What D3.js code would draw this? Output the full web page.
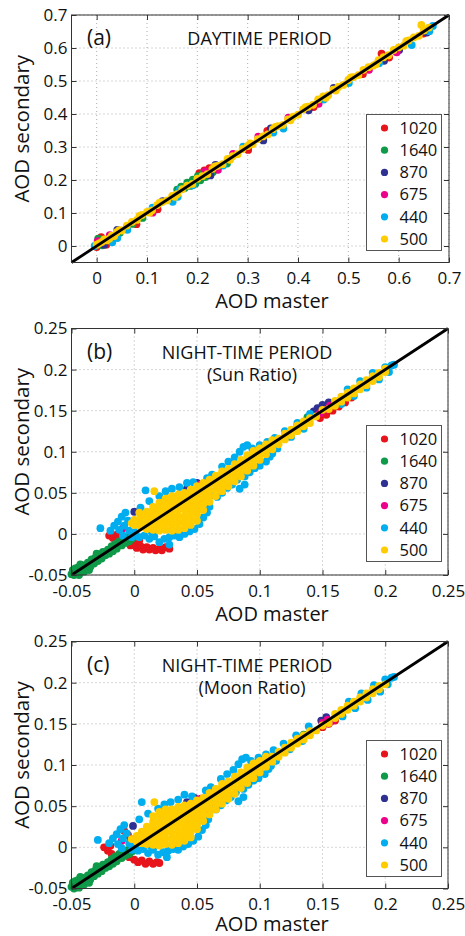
<!DOCTYPE html>
<html>
<head>
<meta charset="utf-8">
<script src="https://cdn.jsdelivr.net/npm/d3@7"></script>
<style>
html, body { margin: 0; padding: 0; background: #fff; }
svg { display: block; font-family: "Open Sans", sans-serif; }
</style>
</head>
<body>
<svg id="fig" width="465" height="936"></svg>
<script>
// Wavelengths (nm), in drawing order
const wavelengths = ["1020", "1640", "870", "675", "440", "500"];
const waveColors = ["#e8141c", "#0e9a48", "#2e3192", "#ec008c", "#00aeef", "#ffcc00"];

// Tick values
const dayTicks = [0, 0.1, 0.2, 0.3, 0.4, 0.5, 0.6, 0.7];
const nightTicks = [-0.05, 0, 0.05, 0.1, 0.15, 0.2, 0.25];
const nightTickLabels = ["-0.05", "0", "0.05", "0.1", "0.15", "0.2", "0.25"];

// ---------- (a) daytime: [AOD master, AOD secondary] ----------
const a1020 = [[0.000,-0.003],[0.004,0.021],[0.009,0.027],[0.019,0.004],[0.079,0.066],[0.121,0.111],[0.204,0.221],[0.214,0.229],[0.224,0.236],[0.301,0.291],[0.339,0.349],[0.431,0.421],[0.529,0.521],[0.566,0.583],[0.581,0.571],[0.649,0.644]];
const a1640 = [[0.003,0.022],[0.011,0.002],[0.046,0.040],[0.091,0.085],[0.160,0.171],[0.168,0.180],[0.175,0.176],[0.180,0.192],[0.186,0.182],[0.191,0.201],[0.196,0.189],[0.201,0.212],[0.206,0.199],[0.211,0.219],[0.216,0.209],[0.221,0.217],[0.231,0.224],[0.259,0.250],[0.071,0.067]];
const a870 = [[0.015,0.004],[0.041,0.049],[0.131,0.136],[0.226,0.214],[0.236,0.246],[0.331,0.320],[0.346,0.356],[0.421,0.411],[0.471,0.479],[0.571,0.561],[0.601,0.594],[0.656,0.647]];
const a675 = [[0.002,0.015],[0.026,0.033],[0.111,0.101],[0.216,0.226],[0.241,0.231],[0.271,0.279],[0.321,0.331],[0.381,0.389],[0.441,0.431],[0.541,0.534],[0.596,0.587]];
const a440 = [[-0.004,0.000],[0.031,0.011],[0.041,0.024],[0.061,0.049],[0.111,0.116],[0.151,0.134],[0.161,0.149],[0.165,0.171],[0.191,0.184],[0.251,0.244],[0.291,0.301],[0.351,0.344],[0.371,0.356],[0.451,0.444],[0.501,0.494],[0.561,0.554],[0.626,0.609],[0.661,0.651],[0.668,0.667]];
const a500 = [[0.000,0.004],[0.010,0.012],[0.020,0.017],[0.030,0.031],[0.040,0.042],[0.050,0.047],[0.060,0.062],[0.070,0.073],[0.080,0.079],[0.090,0.094],
  [0.100,0.103],[0.110,0.108],[0.120,0.124],[0.130,0.133],[0.140,0.138],[0.150,0.152],[0.160,0.157],[0.170,0.172],[0.180,0.183],[0.190,0.188],
  [0.200,0.204],[0.210,0.212],[0.220,0.218],[0.230,0.234],[0.240,0.243],[0.250,0.248],[0.260,0.264],[0.270,0.272],[0.280,0.278],[0.290,0.294],
  [0.300,0.303],[0.310,0.308],[0.320,0.324],[0.330,0.332],[0.340,0.338],[0.350,0.354],[0.360,0.363],[0.370,0.367],[0.380,0.384],[0.390,0.392],
  [0.400,0.398],[0.410,0.414],[0.420,0.422],[0.430,0.428],[0.440,0.444],[0.450,0.453],[0.460,0.457],[0.470,0.474],[0.480,0.482],[0.490,0.488],
  [0.500,0.503],[0.510,0.512],[0.520,0.518],[0.530,0.534],[0.540,0.542],[0.550,0.547],[0.560,0.563],[0.570,0.572],[0.580,0.578],[0.590,0.594],
  [0.600,0.602],[0.610,0.607],[0.620,0.623],[0.630,0.632],[0.640,0.637],[0.650,0.653],[0.660,0.662],[0.645,0.670],[0.015,0.020],[0.035,0.030],
  [0.125,0.131],[0.155,0.149],[0.305,0.311],[0.455,0.449],[0.005,0.008],[0.025,0.022],[0.045,0.048],[0.085,0.091],[0.105,0.101],[0.235,0.241],
  [0.265,0.261],[0.355,0.361],[0.385,0.381],[0.415,0.421],[0.475,0.471],[0.505,0.511],[0.555,0.551],[0.615,0.621]];

// ---------- (b) night-time, Sun Ratio ----------
const b1020 = [[-0.020,-0.002],[-0.017,-0.005],[-0.014,-0.001],[-0.006,-0.010],[-0.003,-0.014],[0.000,-0.012],[0.002,-0.017],[0.005,-0.015],[0.007,-0.019],[0.010,-0.016],
  [0.012,-0.019],[0.015,-0.017],[0.017,-0.020],[0.020,-0.018],[0.022,-0.020],[0.025,-0.016],[0.028,-0.018],[0.004,-0.008],[0.052,0.040],[0.055,0.036],
  [0.058,0.041],[0.048,0.052],[0.148,0.141],[0.153,0.145],[0.158,0.150],[0.163,0.155],[0.168,0.160],[0.173,0.166],[0.120,0.116],[0.100,0.097],[0.085,0.080],[0.070,0.066]];
const b1640 = [[-0.050,-0.049],[-0.049,-0.044],[-0.048,-0.050],[-0.046,-0.047],[-0.045,-0.041],[-0.044,-0.050],[-0.042,-0.045],[-0.041,-0.038],[-0.040,-0.046],[-0.038,-0.041],
  [-0.037,-0.035],[-0.035,-0.040],[-0.034,-0.031],[-0.032,-0.036],[-0.031,-0.029],[-0.029,-0.033],[-0.028,-0.025],[-0.026,-0.030],[-0.025,-0.022],[-0.023,-0.026],
  [-0.021,-0.019],[-0.020,-0.024],[-0.018,-0.015],[-0.017,-0.021],[-0.015,-0.012],[-0.014,-0.018],[-0.012,-0.009],[-0.010,-0.014],[-0.009,-0.006],[-0.007,-0.011],
  [-0.005,-0.004],[-0.004,-0.009],[-0.002,-0.006],[0.000,-0.003],[-0.047,-0.042],[-0.043,-0.037],[-0.036,-0.044],[-0.030,-0.024],[0.130,0.132],[0.138,0.142]];
const b870 = [[0.000,0.027],[0.042,0.055],[0.050,0.062],[0.061,0.047],[0.146,0.153],[0.150,0.157],[0.143,0.149],[0.155,0.160]];
const b675 = [[-0.009,0.007],[0.052,0.060],[0.055,0.058],[0.152,0.151],[0.156,0.156],[0.160,0.158],[0.148,0.147],[0.164,0.162]];
const b440 = [[-0.027,0.007],[-0.019,0.004],[-0.016,0.010],[-0.013,0.015],[-0.010,0.021],[-0.007,0.026],[-0.012,0.005],[-0.008,0.010],[-0.005,0.016],[-0.004,0.004],
  [-0.009,-0.002],[-0.002,-0.004],[0.001,0.002],[0.009,0.053],[0.005,0.032],[0.012,0.040],[0.020,0.046],[0.025,0.052],[0.030,0.055],[0.036,0.057],
  [0.042,0.062],[0.047,0.063],[0.004,-0.004],[0.008,-0.002],[0.012,-0.006],[0.016,-0.003],[0.020,-0.010],[0.024,-0.006],[0.028,-0.013],[0.028,-0.004],
  [0.032,-0.002],[0.036,-0.004],[0.040,0.000],[0.044,0.003],[0.048,0.006],[0.052,0.012],[0.055,0.020],[0.058,0.026],[0.060,0.033],[0.014,0.002],
  [0.033,0.003],[0.058,0.068],[0.062,0.072],[0.066,0.045],[0.064,0.052],[0.070,0.050],[0.074,0.056],[0.078,0.060],[0.084,0.055],[0.088,0.060],
  [0.082,0.066],[0.088,0.070],[0.092,0.075],[0.096,0.080],[0.100,0.083],[0.105,0.088],[0.108,0.094],[0.070,0.082],[0.075,0.088],[0.080,0.093],
  [0.084,0.100],[0.087,0.106],[0.090,0.108],[0.094,0.104],[0.100,0.108],[0.106,0.112],[0.112,0.117],[0.110,0.098],[0.114,0.104],[0.120,0.125],
  [0.125,0.118],[0.130,0.135],[0.135,0.128],[0.140,0.146],[0.165,0.158],[0.170,0.176],[0.175,0.168],[0.180,0.186],[0.185,0.178],[0.190,0.196],
  [0.195,0.188],[0.200,0.203],[0.205,0.205],[0.203,0.197],[0.207,0.206]];
const b500 = [[-0.002,0.013],[0.000,0.011],[0.000,0.017],[0.005,0.008],[0.005,0.015],[0.005,0.022],[0.010,0.006],[0.010,0.013],[0.010,0.020],[0.010,0.027],
  [0.015,0.005],[0.015,0.012],[0.015,0.019],[0.015,0.026],[0.015,0.033],[0.020,0.004],[0.020,0.010],[0.020,0.017],[0.020,0.024],[0.020,0.031],
  [0.020,0.038],[0.025,0.005],[0.025,0.013],[0.025,0.021],[0.025,0.029],[0.025,0.036],[0.025,0.043],[0.030,0.004],[0.030,0.010],[0.030,0.017],
  [0.030,0.025],[0.030,0.032],[0.030,0.039],[0.030,0.046],[0.035,0.005],[0.035,0.013],[0.035,0.021],[0.035,0.029],[0.035,0.036],[0.035,0.043],
  [0.035,0.048],[0.040,0.007],[0.040,0.015],[0.040,0.022],[0.040,0.030],[0.040,0.037],[0.040,0.044],[0.040,0.050],[0.045,0.011],[0.045,0.019],
  [0.045,0.027],[0.045,0.034],[0.045,0.041],[0.045,0.048],[0.045,0.054],[0.050,0.016],[0.050,0.024],[0.050,0.031],[0.050,0.038],[0.050,0.045],
  [0.050,0.052],[0.050,0.058],[0.055,0.029],[0.055,0.036],[0.055,0.043],[0.055,0.050],[0.055,0.057],[0.055,0.062],[0.060,0.039],[0.060,0.046],
  [0.060,0.053],[0.060,0.060],[0.060,0.066],[0.065,0.046],[0.065,0.053],[0.065,0.060],[0.065,0.066],[0.065,0.071],[0.070,0.052],[0.070,0.059],
  [0.070,0.066],[0.070,0.072],[0.070,0.076],[0.075,0.058],[0.075,0.065],[0.075,0.072],[0.075,0.079],[0.080,0.064],[0.080,0.071],[0.080,0.078],
  [0.080,0.085],[0.085,0.070],[0.085,0.077],[0.085,0.084],[0.085,0.090],[0.090,0.077],[0.090,0.084],[0.090,0.091],[0.090,0.096],[0.095,0.083],
  [0.095,0.090],[0.095,0.097],[0.095,0.101],[0.100,0.090],[0.100,0.097],[0.100,0.104],[0.105,0.097],[0.105,0.103],[0.105,0.109],[0.110,0.103],
  [0.110,0.109],[0.110,0.114],[0.115,0.109],[0.115,0.116],[0.120,0.115],[0.120,0.122],[0.125,0.120],[0.125,0.127],[0.130,0.125],[0.130,0.132],
  [0.135,0.131],[0.135,0.137],[0.140,0.135],[0.140,0.141],[0.145,0.143],[0.150,0.151],[0.155,0.152],[0.160,0.156],[0.160,0.162],[0.165,0.161],
  [0.165,0.167],[0.170,0.166],[0.170,0.172],[0.175,0.171],[0.175,0.177],[0.180,0.176],[0.180,0.182],[0.185,0.181],[0.185,0.187],[0.190,0.186],
  [0.190,0.192],[0.195,0.191],[0.195,0.196],[0.200,0.197],[0.200,0.201],[0.016,0.052],[0.004,0.026]];

// ---------- (c) night-time, Moon Ratio ----------
const c1020 = [[-0.024,0.000],[-0.021,-0.004],[-0.018,-0.008],[-0.019,0.002],[-0.008,0.020],[-0.005,0.015],[-0.003,0.010],[-0.008,-0.008],[-0.004,-0.012],[0.000,-0.015],
  [0.003,-0.018],[0.006,-0.016],[0.009,-0.020],[0.012,-0.017],[0.015,-0.020],[0.018,-0.018],[0.020,-0.019],[0.050,0.036],[0.053,0.040],[0.150,0.146],
  [0.155,0.150],[0.160,0.154],[0.070,0.066],[0.100,0.097],[0.056,0.044]];
const c1640 = [[-0.050,-0.048],[-0.049,-0.043],[-0.048,-0.050],[-0.046,-0.046],[-0.045,-0.040],[-0.044,-0.049],[-0.042,-0.044],[-0.041,-0.037],[-0.040,-0.045],[-0.038,-0.040],
  [-0.037,-0.034],[-0.035,-0.039],[-0.034,-0.030],[-0.032,-0.035],[-0.031,-0.028],[-0.029,-0.032],[-0.028,-0.024],[-0.026,-0.029],[-0.025,-0.021],[-0.023,-0.025],
  [-0.021,-0.018],[-0.020,-0.023],[-0.018,-0.014],[-0.017,-0.020],[-0.015,-0.011],[-0.014,-0.017],[-0.012,-0.008],[-0.010,-0.013],[-0.009,-0.005],[-0.007,-0.010],
  [-0.005,-0.003],[-0.004,-0.008],[-0.002,-0.005],[0.000,-0.002],[-0.047,-0.041],[-0.043,-0.036],[-0.036,-0.043],[-0.030,-0.023],[0.135,0.137]];
const c870 = [[0.042,0.055],[0.062,0.049],[0.048,0.060],[0.149,0.154],[0.153,0.158],[-0.001,0.026]];
const c675 = [[0.049,0.057],[0.053,0.059],[0.150,0.151],[0.154,0.155],[0.157,0.153],[-0.010,0.008]];
const c440 = [[-0.029,0.009],[-0.020,0.005],[-0.017,0.011],[-0.014,0.016],[-0.011,0.022],[-0.008,0.027],[-0.013,0.004],[-0.009,0.011],[-0.006,0.017],[-0.004,0.005],
  [-0.010,-0.001],[-0.002,-0.003],[0.001,0.003],[0.006,0.055],[0.004,0.034],[0.011,0.041],[0.019,0.047],[0.024,0.052],[0.029,0.055],[0.035,0.058],
  [0.040,0.064],[0.046,0.062],[0.003,-0.004],[0.007,-0.002],[0.011,-0.007],[0.015,-0.003],[0.019,-0.009],[0.023,-0.006],[0.026,-0.012],[0.027,-0.004],
  [0.031,-0.002],[0.035,-0.003],[0.039,0.001],[0.043,0.004],[0.047,0.008],[0.051,0.013],[0.054,0.021],[0.057,0.027],[0.059,0.034],[0.013,0.002],
  [0.032,0.003],[0.057,0.069],[0.061,0.073],[0.065,0.046],[0.063,0.053],[0.069,0.051],[0.073,0.057],[0.077,0.061],[0.083,0.056],[0.087,0.061],
  [0.081,0.067],[0.087,0.071],[0.091,0.076],[0.095,0.081],[0.099,0.084],[0.104,0.089],[0.107,0.095],[0.069,0.083],[0.074,0.089],[0.079,0.094],
  [0.083,0.101],[0.086,0.107],[0.089,0.109],[0.093,0.105],[0.099,0.109],[0.105,0.113],[0.111,0.118],[0.109,0.099],[0.113,0.105],[0.119,0.126],
  [0.124,0.119],[0.129,0.136],[0.134,0.129],[0.139,0.147],[0.166,0.159],[0.171,0.177],[0.176,0.169],[0.181,0.187],[0.186,0.179],[0.191,0.197],
  [0.196,0.189],[0.200,0.204],[0.205,0.206],[0.202,0.198],[0.207,0.207]];
const c500 = [[-0.002,0.010],[0.002,0.007],[0.002,0.014],[0.006,0.005],[0.006,0.012],[0.006,0.019],[0.010,0.004],[0.010,0.011],[0.010,0.018],[0.010,0.025],
  [0.015,0.003],[0.015,0.010],[0.015,0.017],[0.015,0.024],[0.015,0.031],[0.015,0.038],[0.020,0.002],[0.020,0.009],[0.020,0.016],[0.020,0.023],
  [0.020,0.030],[0.020,0.037],[0.020,0.043],[0.025,0.004],[0.025,0.011],[0.025,0.019],[0.025,0.027],[0.025,0.035],[0.025,0.042],[0.025,0.046],
  [0.030,0.003],[0.030,0.010],[0.030,0.017],[0.030,0.025],[0.030,0.032],[0.030,0.039],[0.030,0.046],[0.035,0.005],[0.035,0.012],[0.035,0.020],
  [0.035,0.028],[0.035,0.036],[0.035,0.043],[0.035,0.049],[0.040,0.008],[0.040,0.015],[0.040,0.023],[0.040,0.030],[0.040,0.037],[0.040,0.044],
  [0.040,0.051],[0.045,0.012],[0.045,0.019],[0.045,0.026],[0.045,0.033],[0.045,0.040],[0.045,0.047],[0.045,0.053],[0.050,0.022],[0.050,0.029],
  [0.050,0.036],[0.050,0.043],[0.050,0.050],[0.050,0.057],[0.055,0.032],[0.055,0.039],[0.055,0.046],[0.055,0.053],[0.055,0.060],[0.060,0.040],
  [0.060,0.047],[0.060,0.054],[0.060,0.061],[0.060,0.066],[0.065,0.046],[0.065,0.053],[0.065,0.060],[0.065,0.067],[0.065,0.071],[0.070,0.053],
  [0.070,0.060],[0.070,0.067],[0.070,0.073],[0.070,0.077],[0.075,0.059],[0.075,0.066],[0.075,0.073],[0.075,0.080],[0.080,0.065],[0.080,0.072],
  [0.080,0.079],[0.080,0.086],[0.085,0.072],[0.085,0.079],[0.085,0.086],[0.085,0.091],[0.090,0.078],[0.090,0.085],[0.090,0.092],[0.090,0.097],
  [0.095,0.084],[0.095,0.091],[0.095,0.098],[0.095,0.102],[0.100,0.091],[0.100,0.098],[0.100,0.105],[0.105,0.098],[0.105,0.104],[0.105,0.110],
  [0.110,0.104],[0.110,0.110],[0.115,0.110],[0.115,0.116],[0.120,0.115],[0.120,0.121],[0.125,0.121],[0.125,0.127],[0.130,0.126],[0.130,0.132],
  [0.135,0.131],[0.135,0.136],[0.140,0.136],[0.140,0.141],[0.145,0.142],[0.150,0.148],[0.155,0.151],[0.160,0.157],[0.160,0.162],[0.165,0.162],
  [0.165,0.167],[0.170,0.167],[0.170,0.172],[0.175,0.172],[0.175,0.177],[0.180,0.177],[0.180,0.182],[0.185,0.182],[0.185,0.187],[0.190,0.187],
  [0.190,0.192],[0.195,0.192],[0.195,0.196],[0.200,0.198],[0.016,0.055],[0.050,0.027],[0.047,0.033]];

// Panel layout
const panels = [
  { letter: "(a)", title: ["DAYTIME PERIOD"], titleX: 259.5, titleY: [45],
    left: 71.5, right: 449, top: 15, bottom: 262.5, domain: [-0.05, 0.7],
    ticks: dayTicks, labels: dayTicks.map(String),
    series: [a1020, a1640, a870, a675, a440, a500],
    legendTop: 114.5, letterY: 45, xlabelY: 308 },
  { letter: "(b)", title: ["NIGHT-TIME PERIOD", "(Sun Ratio)"], titleX: 247, subX: 252, titleY: [359, 381],
    left: 71.5, right: 448, top: 328.5, bottom: 575, domain: [-0.05, 0.25],
    ticks: nightTicks, labels: nightTickLabels,
    series: [b1020, b1640, b870, b675, b440, b500],
    legendTop: 425.5, letterY: 359, xlabelY: 621 },
  { letter: "(c)", title: ["NIGHT-TIME PERIOD", "(Moon Ratio)"], titleX: 247, subX: 252, titleY: [672, 694],
    left: 71.5, right: 448, top: 641.5, bottom: 888.5, domain: [-0.05, 0.25],
    ticks: nightTicks, labels: nightTickLabels,
    series: [c1020, c1640, c870, c675, c440, c500],
    legendTop: 740.5, letterY: 672, xlabelY: 931 }
];

const svg = d3.select("#fig");
const ink = "#111";
const axisInk = "#333";
const tickFont = 17;

panels.forEach(p => {
  const x = d3.scaleLinear().domain(p.domain).range([p.left, p.right]);
  const y = d3.scaleLinear().domain(p.domain).range([p.bottom, p.top]);
  const g = svg.append("g");
  const fmt = d => p.labels[p.ticks.indexOf(d)];

  // dotted grid
  const grid = g.append("g").attr("stroke", "#9a9a9a").attr("stroke-width", 0.8).attr("stroke-dasharray", "1,3");
  grid.selectAll("line.vx").data(p.ticks).join("line")
    .attr("x1", d => x(d)).attr("x2", d => x(d)).attr("y1", p.top).attr("y2", p.bottom);
  grid.selectAll("line.hy").data(p.ticks).join("line")
    .attr("x1", p.left).attr("x2", p.right).attr("y1", d => y(d)).attr("y2", d => y(d));

  // scatter, one layer per wavelength
  p.series.forEach((pts, i) => {
    g.append("g").attr("fill", waveColors[i])
      .selectAll("circle").data(pts).join("circle")
      .attr("cx", d => x(d[0])).attr("cy", d => y(d[1])).attr("r", 3.9);
  });

  // 1:1 line
  g.append("path")
    .datum(p.domain.map(v => [v, v]))
    .attr("d", d3.line().x(d => x(d[0])).y(d => y(d[1])))
    .attr("stroke", "#000").attr("stroke-width", 2.8).attr("fill", "none");

  // axes with inward ticks on all four sides
  const styleAxis = sel => {
    sel.select(".domain").remove();
    sel.selectAll(".tick line").attr("stroke", axisInk);
    sel.selectAll(".tick text").attr("fill", ink).attr("font-size", tickFont).attr("font-family", "'Open Sans', sans-serif");
  };
  g.append("g").attr("transform", `translate(0,${p.bottom})`)
    .call(d3.axisBottom(x).tickValues(p.ticks).tickFormat(fmt).tickSizeInner(-5).tickSizeOuter(0).tickPadding(9.5))
    .call(styleAxis);
  g.append("g").attr("transform", `translate(0,${p.top})`)
    .call(d3.axisTop(x).tickValues(p.ticks).tickFormat("").tickSizeInner(-5).tickSizeOuter(0))
    .call(styleAxis);
  g.append("g").attr("transform", `translate(${p.left},0)`)
    .call(d3.axisLeft(y).tickValues(p.ticks).tickFormat(fmt).tickSizeInner(-5).tickSizeOuter(0).tickPadding(4))
    .call(styleAxis);
  g.append("g").attr("transform", `translate(${p.right},0)`)
    .call(d3.axisRight(y).tickValues(p.ticks).tickFormat("").tickSizeInner(-5).tickSizeOuter(0))
    .call(styleAxis);

  // box
  g.append("rect")
    .attr("x", p.left).attr("y", p.top)
    .attr("width", p.right - p.left).attr("height", p.bottom - p.top)
    .attr("fill", "none").attr("stroke", axisInk).attr("stroke-width", 1);

  // axis titles
  g.append("text")
    .attr("x", 272).attr("y", p.xlabelY)
    .attr("text-anchor", "middle").attr("font-size", 20).attr("fill", ink)
    .text("AOD master");
  g.append("text")
    .attr("transform", `translate(29,${(p.top + p.bottom) / 2 - 10}) rotate(-90)`)
    .attr("text-anchor", "middle").attr("font-size", 20.5).attr("fill", ink)
    .text("AOD secondary");

  // panel letter and period titles
  g.append("text").attr("x", 87).attr("y", p.letterY)
    .attr("font-size", 21).attr("fill", ink).text(p.letter);
  p.title.forEach((t, k) => {
    g.append("text")
      .attr("x", k === 0 ? p.titleX : p.subX).attr("y", p.titleY[k])
      .attr("text-anchor", "middle").attr("font-size", 18).attr("fill", ink)
      .text(t);
  });

  // legend
  const lg = g.append("g").attr("transform", `translate(366.5,${p.legendTop})`);
  lg.append("rect").attr("width", 75).attr("height", 136)
    .attr("fill", "#fff").attr("stroke", "#555").attr("stroke-width", 1);
  const rows = lg.selectAll("g.row").data(wavelengths).join("g")
    .attr("transform", (d, i) => `translate(0,${13.5 + i * 22.2})`);
  rows.append("circle").attr("cx", 18).attr("cy", 0).attr("r", 3.6)
    .attr("fill", (d, i) => waveColors[i]);
  rows.append("text").attr("x", 33).attr("y", 0).attr("dy", "0.35em")
    .attr("font-size", 16.5).attr("fill", ink).text(d => d);
});
</script>
</body>
</html>
